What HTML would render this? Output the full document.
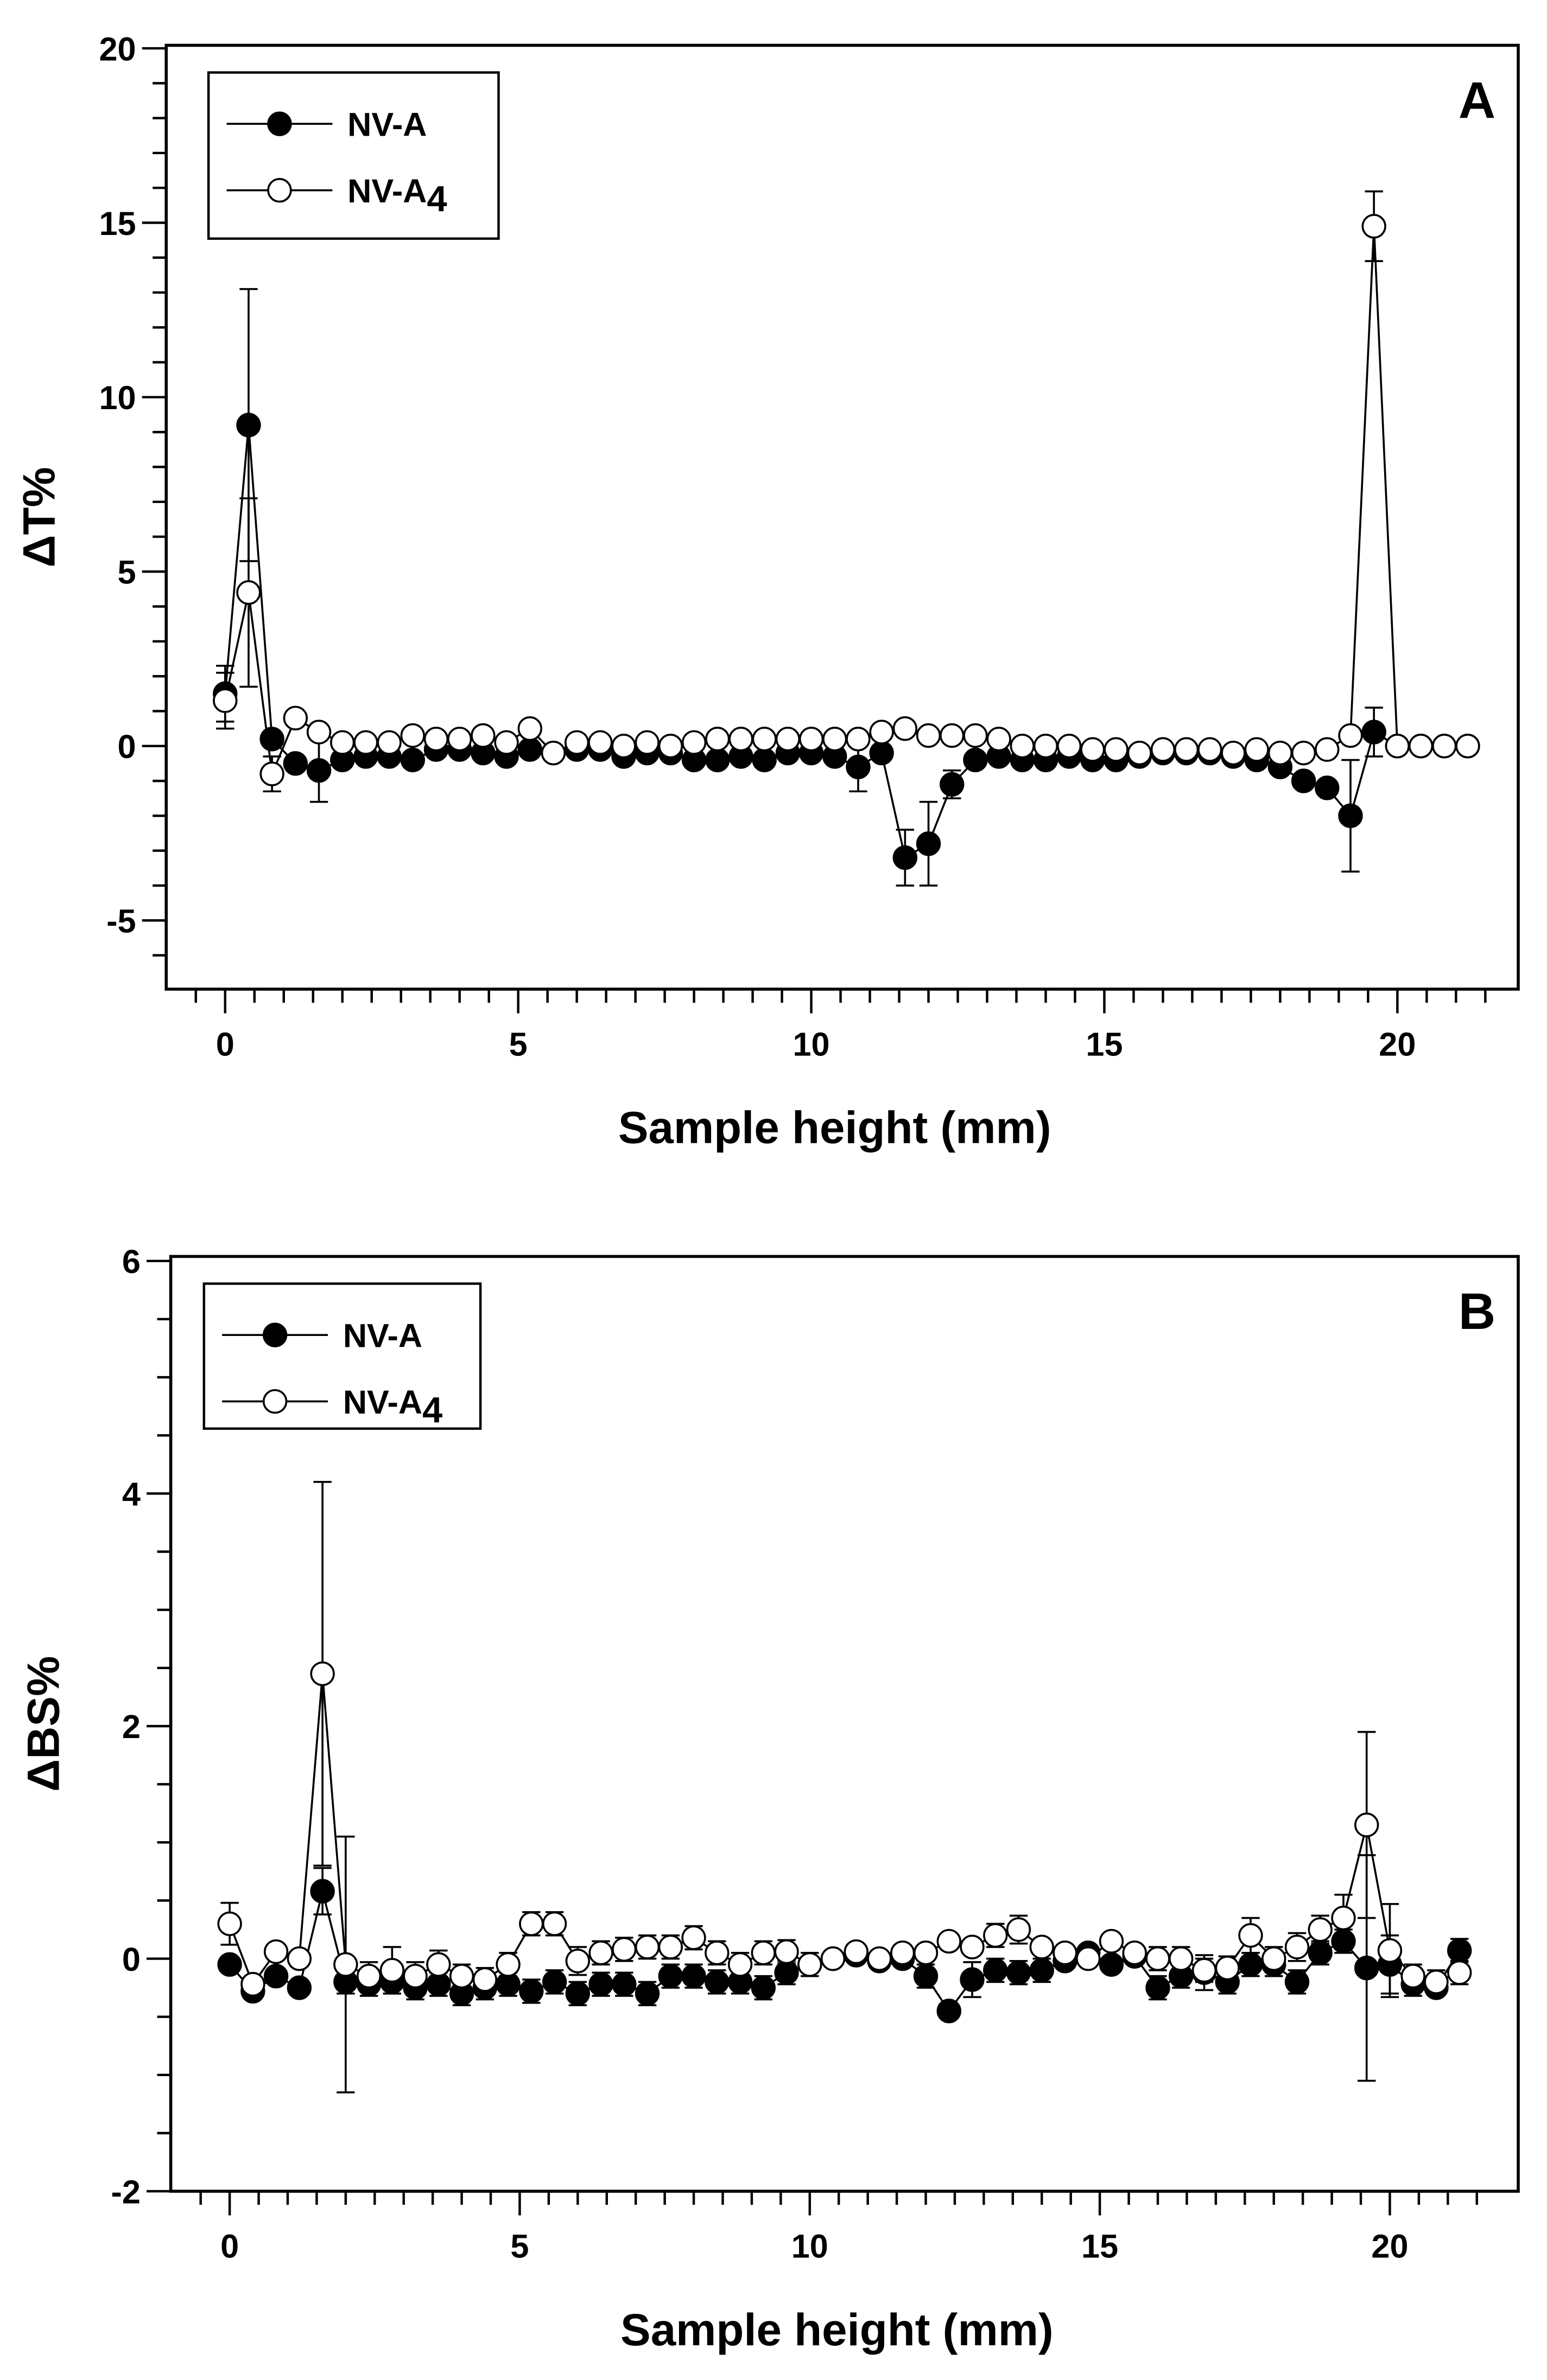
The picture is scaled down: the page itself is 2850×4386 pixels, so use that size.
<!DOCTYPE html>
<html><head><meta charset="utf-8"><style>
html,body{margin:0;padding:0;background:#fff;}
svg{display:block;font-family:"Liberation Sans",Arial,sans-serif;font-weight:bold;}
</style></head><body>
<svg id="fig" width="2850" height="4386" viewBox="0 0 1024 1576" xmlns="http://www.w3.org/2000/svg"></svg>
<script>
// ---- data ----
const xs = [];
for (let i = 0; i <= 53; i++) xs.push(+(i * 0.4).toFixed(1));
const aFilled = [1.5,9.2,0.2,-0.5,-0.7,-0.4,-0.3,-0.3,-0.4,-0.1,-0.1,-0.2,-0.3,-0.1,-0.2,-0.1,-0.1,-0.3,-0.2,-0.2,-0.4,-0.4,-0.3,-0.4,-0.2,-0.2,-0.3,-0.6,-0.2,-3.2,-2.8,-1.1,-0.4,-0.3,-0.4,-0.4,-0.3,-0.4,-0.4,-0.3,-0.2,-0.2,-0.2,-0.3,-0.4,-0.6,-1.0,-1.2,-2.0,0.4,0.0,0.0,0.0,0.0];
const aFilledErr = [0.8,3.9,0.3,0.3,0.9,0.2,0.2,0.2,0.2,0.2,0.2,0.2,0.3,0.2,0.2,0.2,0.2,0.2,0.2,0.2,0.2,0.2,0.2,0.2,0.2,0.2,0.2,0.7,0.2,0.8,1.2,0.4,0.2,0.2,0.2,0.2,0.2,0.2,0.2,0.2,0.2,0.2,0.2,0.2,0.2,0.2,0.2,0.3,1.6,0.7,0.1,0.1,0.1,0.1];
const aOpen = [1.3,4.4,-0.8,0.8,0.4,0.1,0.1,0.1,0.3,0.2,0.2,0.3,0.1,0.5,-0.2,0.1,0.1,0.0,0.1,0.0,0.1,0.2,0.2,0.2,0.2,0.2,0.2,0.2,0.4,0.5,0.3,0.3,0.3,0.2,0.0,0.0,0.0,-0.1,-0.1,-0.2,-0.1,-0.1,-0.1,-0.2,-0.1,-0.2,-0.2,-0.1,0.3,14.9,0.0,0.0,0.0,0.0];
const aOpenErr = [0.8,2.7,0.5,0.3,0.3,0.2,0.2,0.2,0.2,0.2,0.2,0.2,0.2,0.3,0.2,0.2,0.2,0.2,0.2,0.2,0.2,0.2,0.2,0.2,0.2,0.2,0.2,0.2,0.2,0.2,0.2,0.2,0.2,0.2,0.2,0.2,0.2,0.2,0.2,0.2,0.2,0.2,0.2,0.2,0.2,0.2,0.2,0.2,0.3,1.0,0.1,0.1,0.1,0.1];
const bFilled = [-0.05,-0.28,-0.15,-0.25,0.58,-0.2,-0.22,-0.2,-0.25,-0.22,-0.3,-0.25,-0.22,-0.28,-0.2,-0.3,-0.22,-0.22,-0.3,-0.15,-0.15,-0.2,-0.2,-0.25,-0.12,-0.05,0.0,0.03,-0.02,0.0,-0.15,-0.45,-0.18,-0.1,-0.12,-0.1,-0.02,0.05,-0.05,0.02,-0.25,-0.15,-0.12,-0.2,-0.05,-0.05,-0.2,0.05,0.15,-0.08,-0.05,-0.22,-0.25,0.07];
const bFilledErr = [0.08,0.08,0.08,0.08,0.2,0.1,0.1,0.1,0.1,0.1,0.1,0.1,0.1,0.1,0.1,0.1,0.1,0.1,0.1,0.1,0.1,0.1,0.1,0.1,0.1,0.1,0.05,0.05,0.05,0.05,0.1,0.08,0.15,0.1,0.1,0.1,0.05,0.05,0.05,0.05,0.1,0.1,0.15,0.1,0.1,0.1,0.1,0.1,0.1,0.97,0.25,0.1,0.08,0.1];
const bOpen = [0.3,-0.22,0.06,0.0,2.45,-0.05,-0.15,-0.1,-0.15,-0.05,-0.15,-0.18,-0.05,0.3,0.3,-0.02,0.05,0.08,0.1,0.1,0.18,0.05,-0.05,0.05,0.06,-0.05,0.0,0.06,0.0,0.05,0.05,0.15,0.1,0.2,0.25,0.1,0.05,0.0,0.15,0.05,0.0,0.0,-0.1,-0.08,0.2,0.0,0.1,0.25,0.35,1.15,0.07,-0.15,-0.2,-0.12];
const bOpenErr = [0.18,0.08,0.08,0.08,1.65,1.1,0.12,0.2,0.12,0.12,0.1,0.1,0.1,0.1,0.1,0.12,0.1,0.1,0.1,0.1,0.1,0.1,0.1,0.1,0.1,0.05,0.05,0.05,0.08,0.08,0.08,0.08,0.08,0.1,0.12,0.08,0.08,0.08,0.08,0.08,0.1,0.1,0.1,0.1,0.15,0.1,0.12,0.12,0.2,0.8,0.4,0.1,0.1,0.1];
const aYTicks = [-5,0,5,10,15,20];
const bYTicks = [-2,0,2,4,6];
const xTicks = [0,5,10,15,20];

const NS = "http://www.w3.org/2000/svg";
const fig = document.getElementById('fig');
function el(tag, attrs, parent, text) {
  const e = document.createElementNS(NS, tag);
  for (const k in attrs) e.setAttribute(k, attrs[k]);
  if (text !== undefined) e.textContent = text;
  (parent || fig).appendChild(e);
  return e;
}

function panel(cfg) {
  const g = el('g', {});
  
  
  const sx = v => cfg.x0 + (v - 0) * (cfg.x20 - cfg.x0) / 20;
  const sy = v => cfg.yZero + (cfg.yTop - cfg.yZero) * v / cfg.yMax;
  const box = el('rect', {x: cfg.left, y: cfg.top, width: cfg.right - cfg.left, height: cfg.bottom - cfg.top, fill: 'none', stroke: '#000', 'stroke-width': 2}, g);
  
  
  for (let v = -0.5; v <= 21.6; v += 0.5) {
    const X = sx(v);
    if (X < cfg.left || X > cfg.right) continue;
    const major = Math.abs(v % 5) < 1e-6;
    el('line', {x1: X, x2: X, y1: cfg.bottom, y2: cfg.bottom + (major ? 16 : 9), stroke: '#000', 'stroke-width': 1.6}, g);
  }
  for (const v of xTicks) {
    const t = el('text', {x: sx(v), y: cfg.bottom + 44, 'text-anchor': 'middle', 'font-size': 22}, g, v);
    
    
  }
  for (let v = cfg.yMin; v <= cfg.yMax + 1e-6; v += cfg.yMinor) {
    const Y = sy(v);
    if (Y > cfg.bottom + 0.5 || Y < cfg.top - 0.5) continue;
    const major = cfg.yTicks.some(t => Math.abs(t - v) < 1e-6);
    el('line', {x1: cfg.left - (major ? 16 : 9), x2: cfg.left, y1: Y, y2: Y, stroke: '#000', 'stroke-width': 1.6}, g);
  }
  for (const v of cfg.yTicks) {
    const t = el('text', {x: cfg.left - 20, y: sy(v) + 8, 'text-anchor': 'end', 'font-size': 22}, g, v);
    
    
  }
  const xt = el('text', {x: (cfg.left + cfg.right) / 2 - 5, y: cfg.bottom + 102, 'text-anchor': 'middle', 'font-size': 30}, g, 'Sample height (mm)');
  
  
  const yc = (cfg.top + cfg.bottom) / 2;
  const yt = el('text', {x: 0, y: 0, transform: `translate(${cfg.left - 74},${yc}) rotate(-90)`, 'text-anchor': 'middle', 'font-size': 30}, g, cfg.ytitle);
  
  
  const pl = el('text', {x: cfg.right - 15, y: cfg.top + 48, 'text-anchor': 'end', 'font-size': 34}, g, cfg.letter);
  
  

  function series(vals, errs, filled, name) {
    const sg = el('g', {}, g);
    
    
    let d = '';
    vals.forEach((v, i) => { d += (i ? 'L' : 'M') + sx(xs[i]) + ' ' + sy(v); });
    el('path', {d, fill: 'none', stroke: '#000', 'stroke-width': 1.3}, sg);
    vals.forEach((v, i) => {
      const X = sx(xs[i]), e = errs[i];
      const y1 = sy(v + e), y2 = sy(v - e);
      if (Math.abs(y2 - y1) > 14) {
        el('line', {x1: X, x2: X, y1, y2, stroke: '#000', 'stroke-width': 1.3}, sg);
        el('line', {x1: X - 6, x2: X + 6, y1, y2: y1, stroke: '#000', 'stroke-width': 1.3}, sg);
        el('line', {x1: X - 6, x2: X + 6, y1: y2, y2, stroke: '#000', 'stroke-width': 1.3}, sg);
      }
    });
    vals.forEach((v, i) => {
      const c = el('circle', {cx: sx(xs[i]), cy: sy(v), r: 7.5, fill: filled ? '#000' : '#fff', stroke: '#000', 'stroke-width': 1.3}, sg);
      
      
    });
  }
  series(cfg.filled, cfg.filledErr, true, 'series-nv-a');
  series(cfg.open, cfg.openErr, false, 'series-nv-a4');

  const L = cfg.legend;
  const lg = el('g', {}, g);
  
  
  el('rect', {x: L.x, y: L.y, width: L.w, height: L.h, fill: '#fff', stroke: '#000', 'stroke-width': 1.6}, lg);
  [[true, 'NV-A'], [false, 'NV-A']].forEach((it, k) => {
    const Y = L.y + 34 + k * 44;
    const e = el('g', {}, lg);
    
    
    el('line', {x1: L.x + 12, x2: L.x + 82, y1: Y, y2: Y, stroke: '#000', 'stroke-width': 1.3}, e);
    el('circle', {cx: L.x + 47, cy: Y, r: 7.5, fill: it[0] ? '#000' : '#fff', stroke: '#000', 'stroke-width': 1.3}, e);
    const t = el('text', {x: L.x + 92, y: Y + 8, 'font-size': 22}, e, it[1]);
    if (k) el('tspan', {dy: 6, 'font-size': 24}, t, '4');
  });
}

panel({name: 'panel-a-transmission', left: 110, right: 1005, top: 30, bottom: 655, x0: 149, x20: 925, yZero: 494, yTop: 32, yMax: 20, yMin: -7, yMinor: 1, yTicks: aYTicks, ytitle: 'ΔT%', letter: 'A',
  filled: aFilled, filledErr: aFilledErr, open: aOpen, openErr: aOpenErr, legend: {x: 138, y: 48, w: 192, h: 110}});
panel({name: 'panel-b-backscattering', left: 113, right: 1005, top: 832, bottom: 1451, x0: 152, x20: 920, yZero: 1297, yTop: 835, yMax: 6, yMin: -2, yMinor: 0.5, yTicks: bYTicks, ytitle: 'ΔBS%', letter: 'B',
  filled: bFilled, filledErr: bFilledErr, open: bOpen, openErr: bOpenErr, legend: {x: 135, y: 850, w: 183, h: 96}});
</script>
</body></html>
